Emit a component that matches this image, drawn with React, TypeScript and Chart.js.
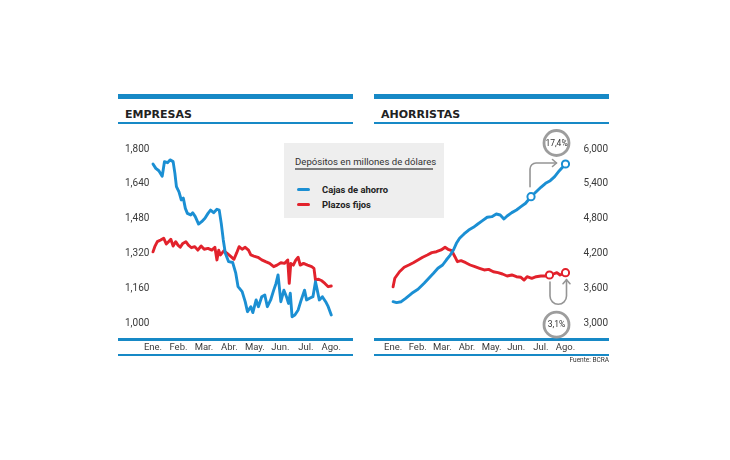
import React, { useEffect, useRef } from "react";
import { Chart, registerables } from "chart.js";

Chart.register(...registerables);

// ---- data -------------------------------------------------------------
const MONTHS = ["Ene.", "Feb.", "Mar.", "Abr.", "May.", "Jun.", "Jul.", "Ago."];

const EMP_MIN = 1000;
const EMP_MAX = 1800;
const EMP_STEP = 160;
const AHO_MIN = 3000;
const AHO_MAX = 6000;
const AHO_STEP = 600;

// x = months elapsed since the start of January (0 = Ene. ... 7 = Ago.)
const empCajasX = [0, 0.11, 0.23, 0.36, 0.4, 0.45, 0.57, 0.67, 0.79, 0.86, 0.92, 1.02, 1.11, 1.19, 1.27, 1.35, 1.48, 1.56, 1.66, 1.79, 1.91, 2.04, 2.16, 2.26, 2.38, 2.51, 2.6, 2.68, 2.76, 2.84, 2.97, 3.13, 3.25, 3.34, 3.5, 3.62, 3.71, 3.84, 3.92, 4.05, 4.14, 4.27, 4.39, 4.49, 4.62, 4.74, 4.83, 4.91, 5.02, 5.14, 5.24, 5.32, 5.39, 5.46, 5.57, 5.7, 5.82, 5.95, 6.03, 6.15, 6.28, 6.38, 6.45, 6.53, 6.65, 6.78, 6.88, 7];
const empCajasY = [1731, 1711, 1700, 1675, 1703, 1742, 1737, 1750, 1742, 1688, 1627, 1603, 1566, 1574, 1527, 1504, 1497, 1507, 1489, 1455, 1466, 1482, 1504, 1519, 1507, 1523, 1519, 1458, 1382, 1321, 1282, 1278, 1229, 1167, 1144, 1098, 1052, 1075, 1048, 1106, 1075, 1121, 1129, 1075, 1106, 1151, 1182, 1221, 1098, 1151, 1121, 1090, 1137, 1029, 1037, 1060, 1106, 1151, 1106, 1114, 1121, 1190, 1151, 1106, 1121, 1098, 1075, 1037];

const empPlazosX = [0, 0.07, 0.17, 0.3, 0.42, 0.52, 0.61, 0.7, 0.79, 0.89, 0.98, 1.07, 1.17, 1.29, 1.39, 1.51, 1.64, 1.76, 1.89, 2.01, 2.16, 2.31, 2.43, 2.51, 2.58, 2.65, 2.78, 2.9, 3.05, 3.18, 3.28, 3.38, 3.5, 3.62, 3.75, 3.84, 3.96, 4.12, 4.27, 4.42, 4.58, 4.74, 4.87, 5.02, 5.16, 5.29, 5.35, 5.41, 5.51, 5.61, 5.7, 5.78, 5.91, 6.07, 6.23, 6.32, 6.38, 6.5, 6.63, 6.75, 6.88, 7];
const empPlazosY = [1327, 1351, 1374, 1382, 1390, 1363, 1374, 1385, 1354, 1374, 1358, 1348, 1366, 1374, 1358, 1346, 1351, 1335, 1354, 1339, 1343, 1335, 1348, 1290, 1335, 1313, 1332, 1321, 1306, 1293, 1321, 1351, 1339, 1348, 1335, 1313, 1308, 1302, 1290, 1282, 1274, 1259, 1266, 1277, 1274, 1290, 1182, 1274, 1266, 1290, 1302, 1266, 1274, 1266, 1259, 1251, 1198, 1201, 1194, 1182, 1167, 1170];

const ahoCajasX = [0, 0.14, 0.33, 0.51, 0.76, 1.01, 1.26, 1.45, 1.64, 1.82, 2.01, 2.16, 2.32, 2.45, 2.57, 2.7, 2.88, 3.07, 3.26, 3.44, 3.63, 3.82, 4.01, 4.19, 4.35, 4.5, 4.63, 4.82, 5.01, 5.19, 5.38, 5.6, 5.81, 6, 6.19, 6.38, 6.56, 6.75, 7];
const ahoCajasY = [3367, 3351, 3367, 3426, 3512, 3581, 3685, 3771, 3857, 3943, 4000, 4086, 4172, 4259, 4374, 4461, 4535, 4603, 4650, 4707, 4764, 4823, 4833, 4879, 4862, 4793, 4845, 4903, 4948, 5005, 5064, 5178, 5264, 5340, 5409, 5454, 5523, 5626, 5741];

const ahoPlazosX = [0, 0.07, 0.26, 0.45, 0.64, 0.82, 1.01, 1.2, 1.39, 1.57, 1.76, 1.95, 2.11, 2.23, 2.38, 2.51, 2.61, 2.76, 2.95, 3.13, 3.32, 3.51, 3.7, 3.88, 4.07, 4.26, 4.44, 4.63, 4.82, 5.01, 5.19, 5.32, 5.44, 5.63, 5.81, 6, 6.19, 6.35, 6.51, 6.65, 6.78, 7];
const ahoPlazosY = [3625, 3771, 3884, 3961, 4000, 4040, 4086, 4133, 4172, 4213, 4229, 4259, 4305, 4271, 4247, 4143, 4057, 4074, 4040, 4000, 3971, 3943, 3914, 3925, 3884, 3868, 3845, 3810, 3828, 3798, 3788, 3741, 3798, 3771, 3798, 3810, 3810, 3828, 3845, 3868, 3828, 3868];

// starting points of the highlighted growth spans (the span ends at the last value)
const AHO_CAJAS_MARK_X = 5.6;
const AHO_PLAZOS_MARK_X = 6.35;
const GROWTH_CAJAS = "17,4%";
const GROWTH_PLAZOS = "3,1%";

// ---- styles -----------------------------------------------------------
const BLUE = "#1b8fd3";
const RED = "#e2222c";
const BAR = "#1789c6";
const TICK_COLOR = "#3a3a3a";
const NOTE_GRAY = "#959595";
const SANS = 'Roboto, "Liberation Sans", sans-serif';
const HEAD = '"DejaVu Sans", Verdana, sans-serif';

const fmt = (v: number) => Number(v).toLocaleString("en-US");
const series = (xs: number[], ys: number[]) => xs.map((x, i) => ({ x, y: ys[i] }));

function badge(ctx: CanvasRenderingContext2D, x: number, y: number, text: string) {
  ctx.beginPath();
  ctx.arc(x, y, 12.5, 0, Math.PI * 2);
  ctx.fillStyle = "#ffffff";
  ctx.fill();
  ctx.lineWidth = 2.8;
  ctx.strokeStyle = "#9d9d9d";
  ctx.stroke();
  ctx.fillStyle = "#333333";
  ctx.font = `8.5px ${SANS}`;
  ctx.textAlign = "center";
  ctx.textBaseline = "middle";
  ctx.fillText(text, x, y + 0.5);
}

// elbow arrow for savings accounts, U-turn arrow for fixed-term deposits, with % badges
const growthNotes = {
  id: "growthNotes",
  afterDatasetsDraw(chart: any) {
    const ctx: CanvasRenderingContext2D = chart.ctx;
    const cajas = chart.getDatasetMeta(0).data;
    const plazos = chart.getDatasetMeta(1).data;
    const a1 = cajas[ahoCajasX.indexOf(AHO_CAJAS_MARK_X)];
    const a2 = cajas[cajas.length - 1];
    const b1 = plazos[ahoPlazosX.indexOf(AHO_PLAZOS_MARK_X)];
    const b2 = plazos[plazos.length - 1];

    ctx.save();
    ctx.strokeStyle = NOTE_GRAY;
    ctx.lineWidth = 1.6;
    ctx.lineCap = "round";
    ctx.lineJoin = "round";

    const ex = a1.x - 1;
    const hy = a2.y - 1;
    const tipX = a2.x - 9;
    ctx.beginPath();
    ctx.moveTo(ex, a1.y - 10);
    ctx.arcTo(ex, hy, ex + 6, hy, 6);
    ctx.lineTo(tipX, hy);
    ctx.stroke();
    ctx.beginPath();
    ctx.moveTo(tipX - 4, hy - 3.5);
    ctx.lineTo(tipX, hy);
    ctx.lineTo(tipX - 4, hy + 3.5);
    ctx.stroke();

    const lx = b1.x + 0.5;
    const rx = b2.x + 1;
    const ay = b1.y + 21;
    const tipY = b2.y + 7;
    ctx.beginPath();
    ctx.moveTo(lx, b1.y + 7);
    ctx.lineTo(lx, ay);
    ctx.arc((lx + rx) / 2, ay, (rx - lx) / 2, Math.PI, 0, true);
    ctx.lineTo(rx, tipY);
    ctx.stroke();
    ctx.beginPath();
    ctx.moveTo(rx - 3.5, tipY + 4);
    ctx.lineTo(rx, tipY);
    ctx.lineTo(rx + 3.5, tipY + 4);
    ctx.stroke();

    badge(ctx, a2.x - 9, a2.y - 21, GROWTH_CAJAS);
    badge(ctx, b2.x - 9, b2.y + 52, GROWTH_PLAZOS);
    ctx.restore();
  },
};

type PanelCfg = {
  cajas: { x: number; y: number }[];
  plazos: { x: number; y: number }[];
  cajasMarks: number[];
  plazosMarks: number[];
  min: number;
  max: number;
  step: number;
  side: "left" | "right";
  padding: { left: number; right: number; top: number; bottom: number };
  yWidth: number;
  plugins: any[];
};

function lineSet(label: string, data: any[], color: string, marks: number[]) {
  return {
    label,
    data,
    clip: 8,
    borderColor: color,
    borderWidth: 2.9,
    tension: 0,
    borderJoinStyle: "round",
    borderCapStyle: "round",
    pointRadius: (c: any) => (marks.includes(c.dataIndex) ? 3.6 : 0),
    pointHoverRadius: 0,
    pointBackgroundColor: "#ffffff",
    pointBorderColor: color,
    pointBorderWidth: 2,
  };
}

function makeConfig(p: PanelCfg): any {
  return {
    type: "line",
    data: {
      datasets: [
        lineSet("Cajas de ahorro", p.cajas, BLUE, p.cajasMarks),
        lineSet("Plazos fijos", p.plazos, RED, p.plazosMarks),
      ],
    },
    options: {
      animation: false,
      responsive: false,
      devicePixelRatio: 1,
      events: [],
      layout: { padding: p.padding },
      plugins: { legend: { display: false }, tooltip: { enabled: false } },
      scales: {
        x: {
          type: "linear",
          min: 0,
          max: MONTHS.length - 1,
          grid: { display: false, drawTicks: false },
          border: { display: false },
          ticks: {
            stepSize: 1,
            autoSkip: false,
            maxRotation: 0,
            padding: 19,
            color: TICK_COLOR,
            font: { family: SANS, size: 9.5 },
            callback: (v: number) => MONTHS[v] ?? "",
          },
          afterFit: (s: any) => {
            s.height = 42;
          },
        },
        y: {
          position: p.side,
          min: p.min,
          max: p.max,
          grid: { display: false, drawTicks: false },
          border: { display: false },
          ticks: {
            stepSize: p.step,
            padding: 0,
            crossAlign: "far",
            color: TICK_COLOR,
            font: { family: SANS, size: 10 },
            callback: (v: number) => fmt(v),
          },
          afterFit: (s: any) => {
            s.width = p.yWidth;
          },
        },
      },
    },
    plugins: p.plugins,
  };
}

// ---- layout helpers -----------------------------------------------------
function Label(props: {
  x: number;
  baseline: number;
  size: number;
  text: string;
  family?: string;
  weight?: number;
  color?: string;
  right?: boolean;
}) {
  const { x, baseline, size, text, family = SANS, weight = 400, color = "#333", right } = props;
  const style: React.CSSProperties = {
    position: "absolute",
    top: baseline - size * 0.86,
    fontFamily: family,
    fontSize: size,
    fontWeight: weight,
    lineHeight: 1,
    color,
    whiteSpace: "nowrap",
  };
  if (right) style.right = 730 - x;
  else style.left = x;
  return <div style={style}>{text}</div>;
}

function Rule(props: { x: number; y: number; w: number; h: number; color?: string; radius?: number }) {
  return (
    <div
      style={{
        position: "absolute",
        left: props.x,
        top: props.y,
        width: props.w,
        height: props.h,
        background: props.color ?? BAR,
        borderRadius: props.radius ?? 0,
      }}
    />
  );
}

function PanelFrame({ x, w, title }: { x: number; w: number; title: string }) {
  return (
    <>
      <Rule x={x} y={93.5} w={w} h={5.5} />
      <Label x={x + 7} baseline={118} size={11} weight={700} family={HEAD} color="#222" text={title} />
      <Rule x={x} y={122.3} w={w} h={2} />
      <Rule x={x} y={338.3} w={w} h={2.4} />
      <Rule x={x} y={353.6} w={w} h={2.5} />
    </>
  );
}

export default function App() {
  const leftRef = useRef<HTMLCanvasElement>(null);
  const rightRef = useRef<HTMLCanvasElement>(null);

  useEffect(() => {
    const left = new Chart(
      leftRef.current!,
      makeConfig({
        cajas: series(empCajasX, empCajasY),
        plazos: series(empPlazosX, empPlazosY),
        cajasMarks: [],
        plazosMarks: [],
        min: EMP_MIN,
        max: EMP_MAX,
        step: EMP_STEP,
        side: "left",
        padding: { left: 15, right: 19.5, top: 14, bottom: 0 },
        yWidth: 28,
        plugins: [],
      })
    );
    const right = new Chart(
      rightRef.current!,
      makeConfig({
        cajas: series(ahoCajasX, ahoCajasY),
        plazos: series(ahoPlazosX, ahoPlazosY),
        cajasMarks: [ahoCajasX.indexOf(AHO_CAJAS_MARK_X), ahoCajasX.length - 1],
        plazosMarks: [ahoPlazosX.indexOf(AHO_PLAZOS_MARK_X), ahoPlazosX.length - 1],
        min: AHO_MIN,
        max: AHO_MAX,
        step: AHO_STEP,
        side: "right",
        padding: { left: 13, right: 7, top: 24, bottom: 0 },
        yWidth: 42.5,
        plugins: [growthNotes],
      })
    );
    return () => {
      left.destroy();
      right.destroy();
    };
  }, []);

  return (
    <div
      style={{
        position: "absolute",
        left: 0,
        top: 0,
        width: 730,
        height: 460,
        background: "#ffffff",
        overflow: "hidden",
      }}
    >
      <PanelFrame x={118} w={235} title="EMPRESAS" />
      <PanelFrame x={374} w={235} title="AHORRISTAS" />

      <canvas
        ref={leftRef}
        width={250}
        height={230}
        style={{ position: "absolute", left: 110, top: 135, width: 250, height: 230 }}
      />
      <canvas
        ref={rightRef}
        width={250}
        height={240}
        style={{ position: "absolute", left: 365, top: 125, width: 250, height: 240 }}
      />

      <div
        style={{
          position: "absolute",
          left: 284,
          top: 143,
          width: 160,
          height: 75,
          background: "#eeeeee",
        }}
      />
      <Label x={295} baseline={165} size={9.6} text="Depósitos en millones de dólares" color="#333" />
      <Rule x={295} y={167.7} w={138} h={2} color="#7d7d7d" />
      <Rule x={297} y={188.3} w={12.5} h={3} color={BLUE} radius={1.5} />
      <Label x={322} baseline={193.3} size={9.4} weight={700} text="Cajas de ahorro" color="#222" />
      <Rule x={297} y={202.8} w={12.5} h={3} color={RED} radius={1.5} />
      <Label x={322} baseline={207.8} size={9.4} weight={700} text="Plazos fijos" color="#222" />

      <Label x={609} baseline={363} size={6.5} text="Fuente: BCRA" color="#333" right />
    </div>
  );
}
